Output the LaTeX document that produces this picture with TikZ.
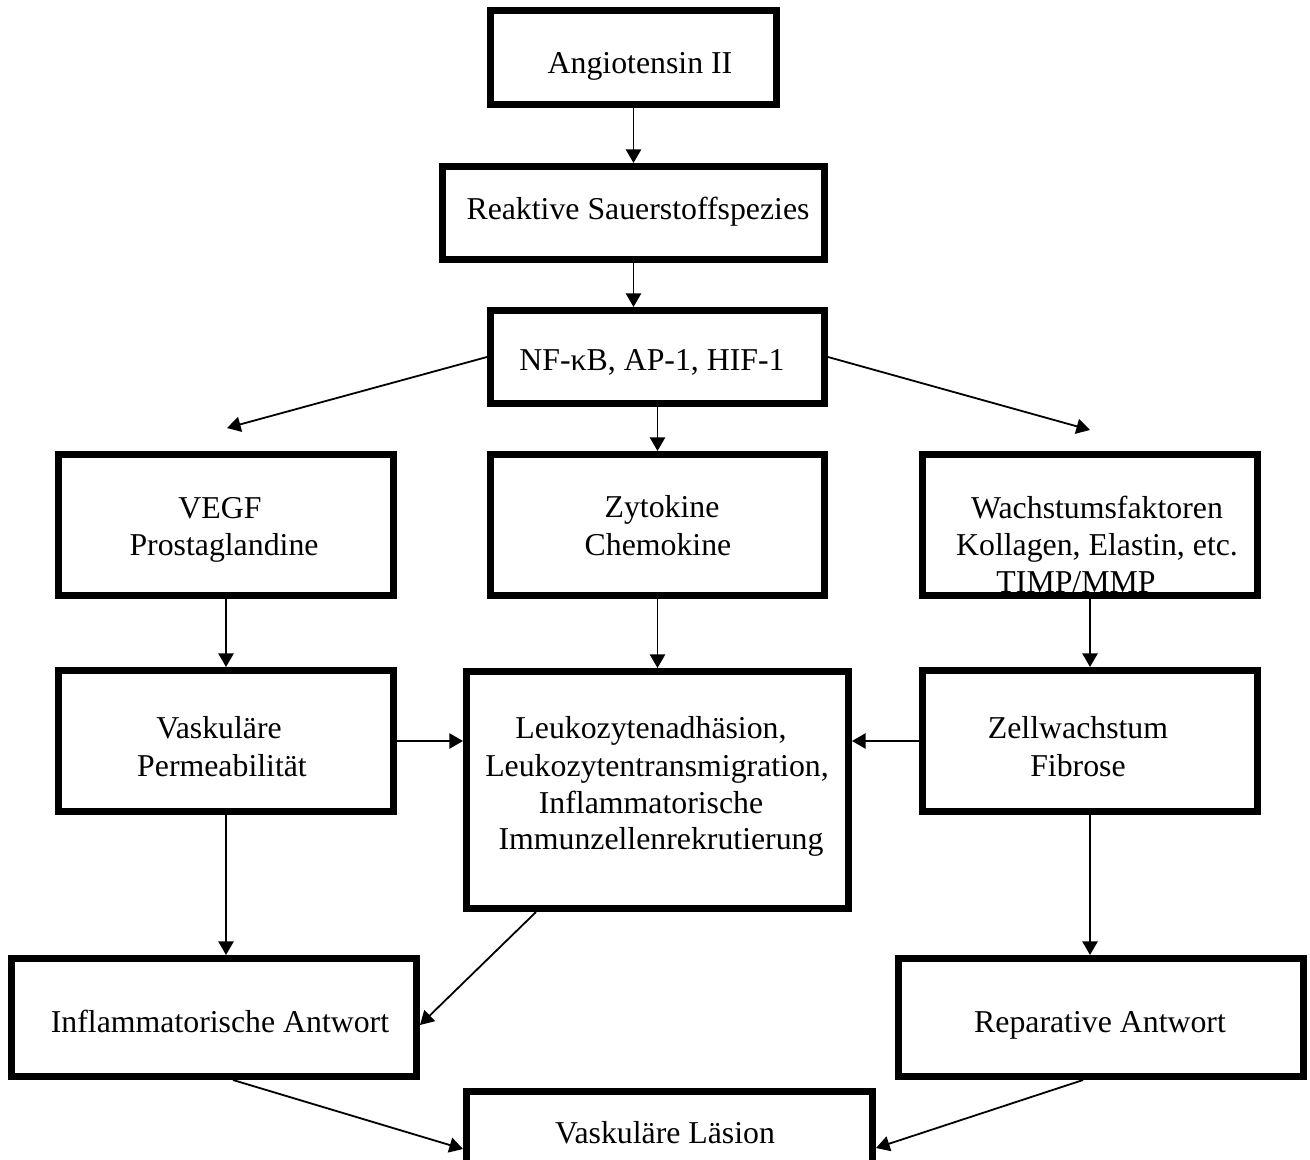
\documentclass[tikz,border=0pt]{standalone}
\usepackage{fontspec}
\setmainfont{Liberation Serif}
\usetikzlibrary{arrows.meta,calc}
\begin{document}
\begin{tikzpicture}[x=0.5pt,y=-0.5pt,
  box/.style={draw=black,line width=3.3pt,rectangle,inner sep=0pt,fill=white},
  lbl/.style={inner sep=0pt,anchor=base,font=\fontsize{15.9}{18.5}\selectfont},
  arr/.style={line width=0.9pt,-{Triangle[length=6.8pt,width=7.6pt]}}]
\useasboundingbox (0,0) rectangle (1310,1160);
\clip (0,0) rectangle (1310,1160);
\fill[white] (0,0) rectangle (1310,1160);
% boxes
\node[box,minimum width=143.2pt,minimum height=47.2pt] (ang) at (633.5,57.5) {};
\node[box,minimum width=191.2pt,minimum height=46.7pt] (ros) at (633.5,213) {};
\node[box,minimum width=167.2pt,minimum height=46.7pt] (nf) at (657.5,357) {};
\node[box,minimum width=167.7pt,minimum height=70.7pt] (vegf) at (226,525) {};
\node[box,minimum width=167.2pt,minimum height=70.7pt] (zyt) at (657.5,525) {};
\node[box,minimum width=167.7pt,minimum height=70.7pt] (wachs) at (1090,525) {};
\node[box,minimum width=167.7pt,minimum height=70.7pt] (perm) at (226,741) {};
\node[box,minimum width=191.2pt,minimum height=118.7pt] (leuko) at (657.5,790) {};
\node[box,minimum width=167.7pt,minimum height=70.7pt] (zell) at (1090,741) {};
\node[box,minimum width=202.7pt,minimum height=59.2pt] (infl) at (214,1017.5) {};
\node[box,minimum width=202.7pt,minimum height=59.2pt] (rep) at (1101,1017.5) {};
\node[box,minimum width=203.2pt,minimum height=52.7pt] (les) at (669.5,1144) {};
% texts
\node[lbl] (tang) at (640,74) {Angiotensin II};
\node[lbl] (tros) at (638,220) {Reaktive Sauerstoffspezies};
\node[lbl] (tnf) at (652,371) {NF-κB, AP-1, HIF-1};
\node[lbl] (tvegfa) at (220,518) {VEGF};
\node[lbl] (tvegfb) at (224,555) {Prostaglandine};
\node[lbl] (tzyta) at (662,517) {Zytokine};
\node[lbl] (tzytb) at (658,555) {Chemokine};
\node[lbl] (twa) at (1097,518) {Wachstumsfaktoren};
\node[lbl] (twb) at (1097,555) {Kollagen, Elastin, etc.};
\node[lbl] (twc) at (1076,592) {TIMP/MMP};
\node[lbl] (tperma) at (219,738) {Vaskuläre};
\node[lbl] (tpermb) at (222,776) {Permeabilität};
\node[lbl] (tla) at (651,738) {Leukozytenadhäsion,};
\node[lbl] (tlb) at (657,776) {Leukozytentransmigration,};
\node[lbl] (tlc) at (651,813) {Inflammatorische};
\node[lbl] (tld) at (661,849) {Immunzellenrekrutierung};
\node[lbl] (tzella) at (1078,738) {Zellwachstum};
\node[lbl] (tzellb) at (1078,776) {Fibrose};
\node[lbl] (tinfl) at (220,1032) {Inflammatorische Antwort};
\node[lbl] (trep) at (1100,1032) {Reparative Antwort};
\node[lbl] (tles) at (665,1143) {Vaskuläre Läsion};
% free ends
\coordinate (lend) at (227,428);
\coordinate (rend) at (1090,430);
% connectors
\draw[arr] (ang.south) -- (ros.north);
\draw[arr] (ros.south) -- (ros.south |- nf.north);
\draw[arr] (nf.west) -- (lend);
\draw[arr] (nf.east) -- (rend);
\draw[arr] (nf.south) -- (zyt.north);
\draw[arr] (vegf.south) -- (perm.north);
\draw[arr] (zyt.south) -- (leuko.north);
\draw[arr] (wachs.south) -- (zell.north);
\draw[arr] (perm.east) -- (perm.east -| leuko.west);
\draw[arr] (zell.west) -- (zell.west -| leuko.east);
\draw[arr] (perm.south) -- (perm.south |- infl.north);
\draw[arr] (zell.south) -- (zell.south |- rep.north);
\draw[arr] ([xshift=36.5pt]leuko.south west) -- (infl.east |- 0,1025);
\draw[arr] ([xshift=112.5pt]infl.south west) -- (les.west |- 0,1149);
\draw[arr] ([xshift=94pt]rep.south west) -- (les.east |- 0,1148);
\end{tikzpicture}
\end{document}
